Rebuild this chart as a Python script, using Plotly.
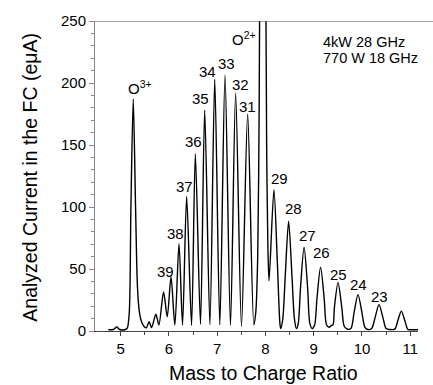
import plotly.graph_objects as go

# Spectrum trace (mass-to-charge ratio, current in eμA)
mq = [4.745, 4.85, 4.92, 4.98, 5.10, 5.14, 5.18, 5.214, 5.262, 5.31, 5.35, 5.39, 5.434, 5.49, 5.53,
      5.593, 5.642, 5.731, 5.793, 5.89, 5.966, 6.045, 6.124, 6.21, 6.283, 6.368, 6.47, 6.548, 6.655,
      6.742, 6.85, 6.95, 7.055, 7.163, 7.276, 7.383, 7.504, 7.632, 7.76,
      7.80, 7.84, 7.87, 7.885, 7.945, 8.005, 8.025, 8.05, 8.075,
      8.176, 8.245, 8.30, 8.317,
      8.36, 8.41, 8.48, 8.55, 8.60, 8.642,
      8.68, 8.725, 8.80, 8.875, 8.92, 8.97,
      9.02, 9.067, 9.142, 9.217, 9.265, 9.317, 9.37,
      9.40, 9.43, 9.504, 9.58, 9.63, 9.69,
      9.77, 9.835, 9.917, 10.0, 10.06, 10.124,
      10.2, 10.27, 10.352, 10.435, 10.5, 10.573,
      10.68, 10.74, 10.814, 10.89, 10.95, 11.0, 11.16]
current = [1.0, 1.2, 3.2, 1.2, 1.2, 2.5, 15, 100, 187, 100, 35, 15, 7.5, 3.5, 2.5,
           7.5, 2.7, 13.6, 4.8, 31.5, 11.4, 43.5, 4.8, 70.5, 4.8, 108.6, 4.5, 142.8, 5.5,
           178, 5, 203, 5, 206.5, 4.5, 192, 3.5, 175, 5,
           15, 60, 180, 300, 600, 300, 150, 70, 40.5,
           114, 57, 6, 2,
           10, 44, 88.6, 44, 10, 2,
           6, 34, 67.5, 34, 6, 2,
           5, 26, 51.5, 26, 5, 3, 4.5,
           5, 19.5, 39, 19.5, 4, 1.6,
           2, 14.6, 29.3, 14.6, 3, 1.2,
           2, 10.6, 21.3, 10.6, 2, 1.2,
           1.5, 8, 16, 8, 1.2, 1.0, 1.0]

# Peak labels (charge states) and their label positions
peak_labels = ["34", "33", "35", "32", "31", "36", "37", "38", "39",
               "29", "28", "27", "26", "25", "24", "23"]
label_x = [6.797, 7.200, 6.652, 7.490, 7.624, 6.513, 6.321, 6.130, 5.938,
           8.286, 8.582, 8.872, 9.166, 9.511, 9.927, 10.372]
label_y = [209.5, 215.7, 187.9, 198.6, 181.1, 152.6, 116.4, 78.4, 48.1,
           122.8, 99.0, 76.7, 63.1, 45.8, 37.8, 27.7]

oxygen_labels = ["O<sup>3+</sup>", "O<sup>2+</sup>"]
oxygen_x = [5.394, 7.548]
oxygen_y = [196, 236]

info_lines = ["4kW 28 GHz", "770 W 18 GHz"]
info_y = [232.8, 220.0]

x_ticks = [5, 6, 7, 8, 9, 10, 11]
x_minor = [5.5, 6.5, 7.5, 8.5, 9.5, 10.5]

FONT = "Liberation Sans, Arial, sans-serif"

fig = go.Figure()
fig.add_trace(go.Scatter(
    x=mq, y=current, mode="lines",
    line=dict(color="black", width=1.4, shape="spline", smoothing=0.8),
    showlegend=False, hoverinfo="skip"))

annotations = []
for t, x, y in zip(peak_labels, label_x, label_y):
    annotations.append(dict(x=x, y=y, xref="x", yref="y", text=t, showarrow=False,
                            xanchor="center", yanchor="middle",
                            font=dict(family=FONT, size=15, color="black")))
for t, x, y in zip(oxygen_labels, oxygen_x, oxygen_y):
    annotations.append(dict(x=x, y=y, xref="x", yref="y", text=t, showarrow=False,
                            xanchor="center", yanchor="middle",
                            font=dict(family=FONT, size=15, color="black")))
for t, y in zip(info_lines, info_y):
    annotations.append(dict(x=9.159, y=y, xref="x", yref="y", text=t, showarrow=False,
                            xanchor="left", yanchor="middle",
                            font=dict(family=FONT, size=14.5, color="black")))
annotations.append(dict(x=0.523, y=-0.134, xref="paper", yref="paper",
                        text="Mass to Charge Ratio", showarrow=False,
                        xanchor="center", yanchor="middle",
                        font=dict(family=FONT, size=19.5, color="black")))
annotations.append(dict(x=-0.204, y=0.495, xref="paper", yref="paper",
                        text="Analyzed Current in the FC (eμA)", showarrow=False,
                        textangle=-90, xanchor="center", yanchor="middle",
                        font=dict(family=FONT, size=19.5, color="black")))

fig.update_layout(
    width=433, height=385,
    margin=dict(l=95, r=15, t=18, b=54),
    paper_bgcolor="white", plot_bgcolor="white",
    annotations=annotations,
    shapes=[dict(type="line", xref="paper", yref="y", x0=0, x1=1.05, y0=250, y1=250,
                 line=dict(color="#555555", width=1))],
)
fig.update_xaxes(
    range=[4.47, 11.16], showgrid=False, zeroline=False,
    showline=True, linecolor="#444444", linewidth=1,
    tickmode="array", tickvals=x_ticks, ticktext=[str(v) for v in x_ticks],
    ticks="outside", ticklen=4, tickcolor="#444444",
    minor=dict(tickmode="array", tickvals=x_minor, ticks="outside", ticklen=3, tickcolor="#444444"),
    tickfont=dict(family=FONT, size=15, color="black"))
fig.update_yaxes(
    range=[0, 250], showgrid=False, zeroline=False,
    showline=True, linecolor="#888888", linewidth=1,
    dtick=50, tick0=0, ticks="outside", ticklen=5, tickcolor="#888888",
    minor=dict(dtick=10, ticks="outside", ticklen=3, tickcolor="#888888"),
    tickfont=dict(family=FONT, size=15, color="black"))

fig.write_html("out.html", config={"displayModeBar": False},
               post_script="document.body.style.margin='0';document.body.style.padding='0';document.body.style.overflow='hidden';")
